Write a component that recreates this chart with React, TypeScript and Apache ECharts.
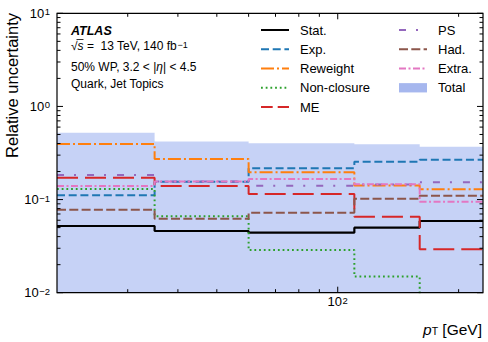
import React, { useEffect, useRef } from "react";
import * as echarts from "echarts";

// ---- data ----
const binEdges = [20, 35, 60, 110, 160, 230];
const statValues = [0.052, 0.046, 0.0441, 0.0499, 0.0589];
const expValues = [0.111, 0.155, 0.217, 0.255, 0.268];
const reweightValues = [0.396, 0.273, 0.196, 0.142, 0.129];
const nonClosureValues = [0.13, 0.0662, 0.0287, 0.0149, 0.001];
const meValues = [0.172, 0.14, 0.115, 0.0655, 0.0292];
const psValues = [0.184, 0.156, 0.141, 0.145, 0.153];
const hadValues = [0.0779, 0.0624, 0.0723, 0.102, 0.11];
const extraValues = [0.14, 0.156, 0.166, 0.146, 0.095];
const totalValues = [0.523, 0.419, 0.402, 0.393, 0.37];

const seriesNames = ["Stat.", "Exp.", "Reweight", "Non-closure", "ME", "PS", "Had.", "Extra.", "Total"];
const legendLeftNames = ["Stat.", "Exp.", "Reweight", "Non-closure", "ME"];
const legendRightNames = ["PS", "Had.", "Extra.", "Total"];

const yMajorTicks = [0.01, 0.1, 1, 10];
const yMinorTicks = [
  0.02, 0.03, 0.04, 0.05, 0.06, 0.07, 0.08, 0.09,
  0.2, 0.3, 0.4, 0.5, 0.6, 0.7, 0.8, 0.9,
  2, 3, 4, 5, 6, 7, 8, 9,
];
const xMajorTicks = [100];
const xMinorTicks = [30, 40, 50, 60, 70, 80, 90, 200];
const xRange = [20, 230];
const yRange = [0.01, 10];

const valuesByName: Record<string, number[]> = {
  "Stat.": statValues,
  "Exp.": expValues,
  Reweight: reweightValues,
  "Non-closure": nonClosureValues,
  ME: meValues,
  PS: psValues,
  "Had.": hadValues,
  "Extra.": extraValues,
  Total: totalValues,
};

const FONT = "Liberation Sans";
const TOTAL_FILL = "rgba(65,105,225,0.3)";
const TOTAL_LEGEND = "#a6b7ee";

const lineStyles: Record<string, { color: string; width: number; type: any }> = {
  "Stat.": { color: "#000000", width: 2.2, type: "solid" },
  "Exp.": { color: "#1f77b4", width: 2, type: [8, 3.7] },
  Reweight: { color: "#ff7f0e", width: 2, type: [13, 3, 2, 3] },
  "Non-closure": { color: "#2ca02c", width: 2, type: [1.8, 2.9] },
  ME: { color: "#d62728", width: 2, type: [21, 7] },
  PS: { color: "#9467bd", width: 2, type: [7, 10, 2, 11] },
  "Had.": { color: "#8c564b", width: 2, type: [9, 3.3] },
  "Extra.": { color: "#e377c2", width: 2, type: [7, 2.5, 2, 2.5] },
};

function stepData(values: number[]) {
  return binEdges.map((e, i) => [e, values[Math.min(i, values.length - 1)]]);
}

function powLabel(v: number) {
  const e = Math.log10(v);
  const r = Math.round(e);
  if (Math.abs(e - r) > 1e-6) return "";
  const exp = r < 0 ? "\u2212" + Math.abs(r) : String(r);
  return `{b|10}{s|${exp}}`;
}

const labelRich = {
  b: { fontSize: 13, lineHeight: 13, verticalAlign: "bottom", fontFamily: FONT, color: "#000" },
  s: { fontSize: 9.5, lineHeight: 9.5, verticalAlign: "top", padding: [0, 0, 8.5, 0.5], fontFamily: FONT, color: "#000" },
};

function legendData(names: string[]) {
  return names.map((n) => {
    if (n === "Total") return { name: n, icon: "rect", itemStyle: { color: TOTAL_LEGEND, borderWidth: 0, opacity: 1 } };
    if (n === "ME") return { name: n, lineStyle: { type: [11.7, 5] } };
    return { name: n };
  });
}

const legendCommon = {
  orient: "vertical",
  top: 20.4,
  padding: 0,
  itemGap: 0,
  itemWidth: 28,
  itemHeight: 9.3,
  selectedMode: false,
  itemStyle: { opacity: 0, borderWidth: 0 },
  textStyle: { fontSize: 13, fontFamily: FONT, color: "#000", lineHeight: 19.25, padding: [0, 0, 0, 6] },
};

export default function App() {
  const ref = useRef<HTMLDivElement>(null);

  useEffect(() => {
    if (!ref.current) return;
    const chart = echarts.init(ref.current, null, { renderer: "svg" });

    const series: any[] = seriesNames.map((name) => {
      if (name === "Total") {
        return {
          name,
          type: "line",
          step: "end",
          data: stepData(valuesByName[name]),
          symbol: "none",
          color: TOTAL_LEGEND,
          lineStyle: { width: 0, opacity: 0 },
          areaStyle: { color: TOTAL_FILL, origin: "start", opacity: 1 },
          z: 1,
          silent: true,
        };
      }
      const st = lineStyles[name];
      return {
        name,
        type: "line",
        step: "end",
        data: stepData(valuesByName[name]),
        symbol: "none",
        color: st.color,
        lineStyle: { color: st.color, width: st.width, type: st.type, cap: "butt" },
        z: 2,
        clip: true,
        silent: true,
      };
    });

    chart.setOption({
      animation: false,
      backgroundColor: "#ffffff",
      textStyle: { fontFamily: FONT },
      grid: { left: 57, right: 5, top: 13.3, bottom: 49.3, show: false },
      xAxis: {
        type: "log",
        logBase: 10,
        min: xRange[0],
        max: xRange[1],
        axisLine: { show: false },
        axisTick: { show: false },
        splitLine: { show: false },
        axisLabel: { formatter: powLabel, rich: labelRich, margin: 2.6, showMinLabel: false, showMaxLabel: false },
      },
      yAxis: {
        type: "log",
        logBase: 10,
        min: yRange[0],
        max: yRange[1],
        axisLine: { show: false },
        axisTick: { show: false },
        splitLine: { show: false },
        axisLabel: { formatter: powLabel, rich: labelRich, margin: 7 },
      },
      legend: [
        { ...legendCommon, left: 260, data: legendData(legendLeftNames) },
        { ...legendCommon, left: 398, data: legendData(legendRightNames) },
      ],
      series,
    });

    const px = (v: number) => chart.convertToPixel({ xAxisIndex: 0 }, v) as number;
    const py = (v: number) => chart.convertToPixel({ yAxisIndex: 0 }, v) as number;
    const x0 = px(xRange[0]);
    const x1 = px(xRange[1]);
    const yb = py(yRange[0]);
    const yt = py(yRange[1]);

    const g: any[] = [];
    const seg = (a: number, b: number, c: number, d: number) =>
      g.push({ type: "line", silent: true, z: 100, shape: { x1: a, y1: b, x2: c, y2: d }, style: { stroke: "#000", lineWidth: 1 } });

    const MAJ = 6;
    const MIN = 3.5;
    xMajorTicks.forEach((v) => {
      const X = px(v);
      seg(X, yb, X, yb - MAJ);
      seg(X, yt, X, yt + MAJ);
    });
    xMinorTicks.forEach((v) => {
      const X = px(v);
      seg(X, yb, X, yb - MIN);
      seg(X, yt, X, yt + MIN);
    });
    yMajorTicks.forEach((v) => {
      const Y = py(v);
      seg(x0, Y, x0 + MAJ, Y);
      seg(x1, Y, x1 - MAJ, Y);
    });
    yMinorTicks.forEach((v) => {
      const Y = py(v);
      seg(x0, Y, x0 + MIN, Y);
      seg(x1, Y, x1 - MIN, Y);
    });
    g.push({
      type: "rect",
      silent: true,
      z: 101,
      shape: { x: x0, y: yt, width: x1 - x0, height: yb - yt },
      style: { fill: "none", stroke: "#000", lineWidth: 1.2 },
    });

    // annotation texts
    g.push({
      type: "text",
      x: 71,
      y: 30.5,
      z: 110,
      style: { text: "ATLAS", fontFamily: FONT, fontSize: 12.5, fontWeight: "bold", fontStyle: "italic", fill: "#000", verticalAlign: "middle" },
    });
    g.push({
      type: "text",
      x: 71,
      y: 46.4,
      z: 110,
      style: {
        text: "{r|\u221a}{i|s}{r| =  13 TeV, 140 fb}{u|\u22121}",
        fill: "#000",
        verticalAlign: "middle",
        rich: {
          r: { fontFamily: FONT, fontSize: 12, lineHeight: 12, verticalAlign: "bottom", fill: "#000" },
          i: { fontFamily: FONT, fontSize: 12, lineHeight: 12, verticalAlign: "bottom", fontStyle: "italic", fill: "#000" },
          u: { fontFamily: FONT, fontSize: 9, lineHeight: 9, verticalAlign: "top", padding: [0, 0, 5.5, 0.5], fill: "#000" },
        },
      },
    });
    g.push({ type: "line", silent: true, z: 110, shape: { x1: 76.5, y1: 39.5, x2: 83.5, y2: 39.5 }, style: { stroke: "#000", lineWidth: 0.8 } });
    g.push({
      type: "text",
      x: 71,
      y: 66.5,
      z: 110,
      style: {
        text: "{r|50% WP, 3.2 < |}{i|\u03b7}{r|| < 4.5}",
        verticalAlign: "middle",
        fill: "#000",
        rich: {
          r: { fontFamily: FONT, fontSize: 12, fill: "#000" },
          i: { fontFamily: FONT, fontSize: 12, fontStyle: "italic", fill: "#000" },
        },
      },
    });
    g.push({
      type: "text",
      x: 71,
      y: 83.5,
      z: 110,
      style: { text: "Quark, Jet Topics", fontFamily: FONT, fontSize: 12, fill: "#000", verticalAlign: "middle" },
    });

    // axis titles
    g.push({
      type: "text",
      x: 12,
      y: 13,
      rotation: Math.PI / 2,
      z: 110,
      style: { text: "Relative uncertainty", fontFamily: FONT, fontSize: 16.5, fill: "#000", align: "right", verticalAlign: "middle" },
    });
    g.push({
      type: "text",
      x: 482,
      y: 328.75,
      z: 110,
      style: {
        text: "{p|p}{t|T}{n| [GeV]}",
        align: "right",
        verticalAlign: "middle",
        fill: "#000",
        rich: {
          p: { fontFamily: FONT, fontSize: 15.5, lineHeight: 15.5, fontStyle: "italic", verticalAlign: "top", fill: "#000" },
          t: { fontFamily: FONT, fontSize: 10.5, lineHeight: 10.5, verticalAlign: "bottom", padding: [6, 0, 0, 0], fill: "#000" },
          n: { fontFamily: FONT, fontSize: 15.5, lineHeight: 15.5, verticalAlign: "top", fill: "#000" },
        },
      },
    });

    chart.setOption({ graphic: g });

    return () => chart.dispose();
  }, []);

  return (
    <div
      ref={ref}
      style={{ position: "absolute", left: 0, top: 0, width: 488, height: 342, background: "#fff" }}
    />
  );
}
